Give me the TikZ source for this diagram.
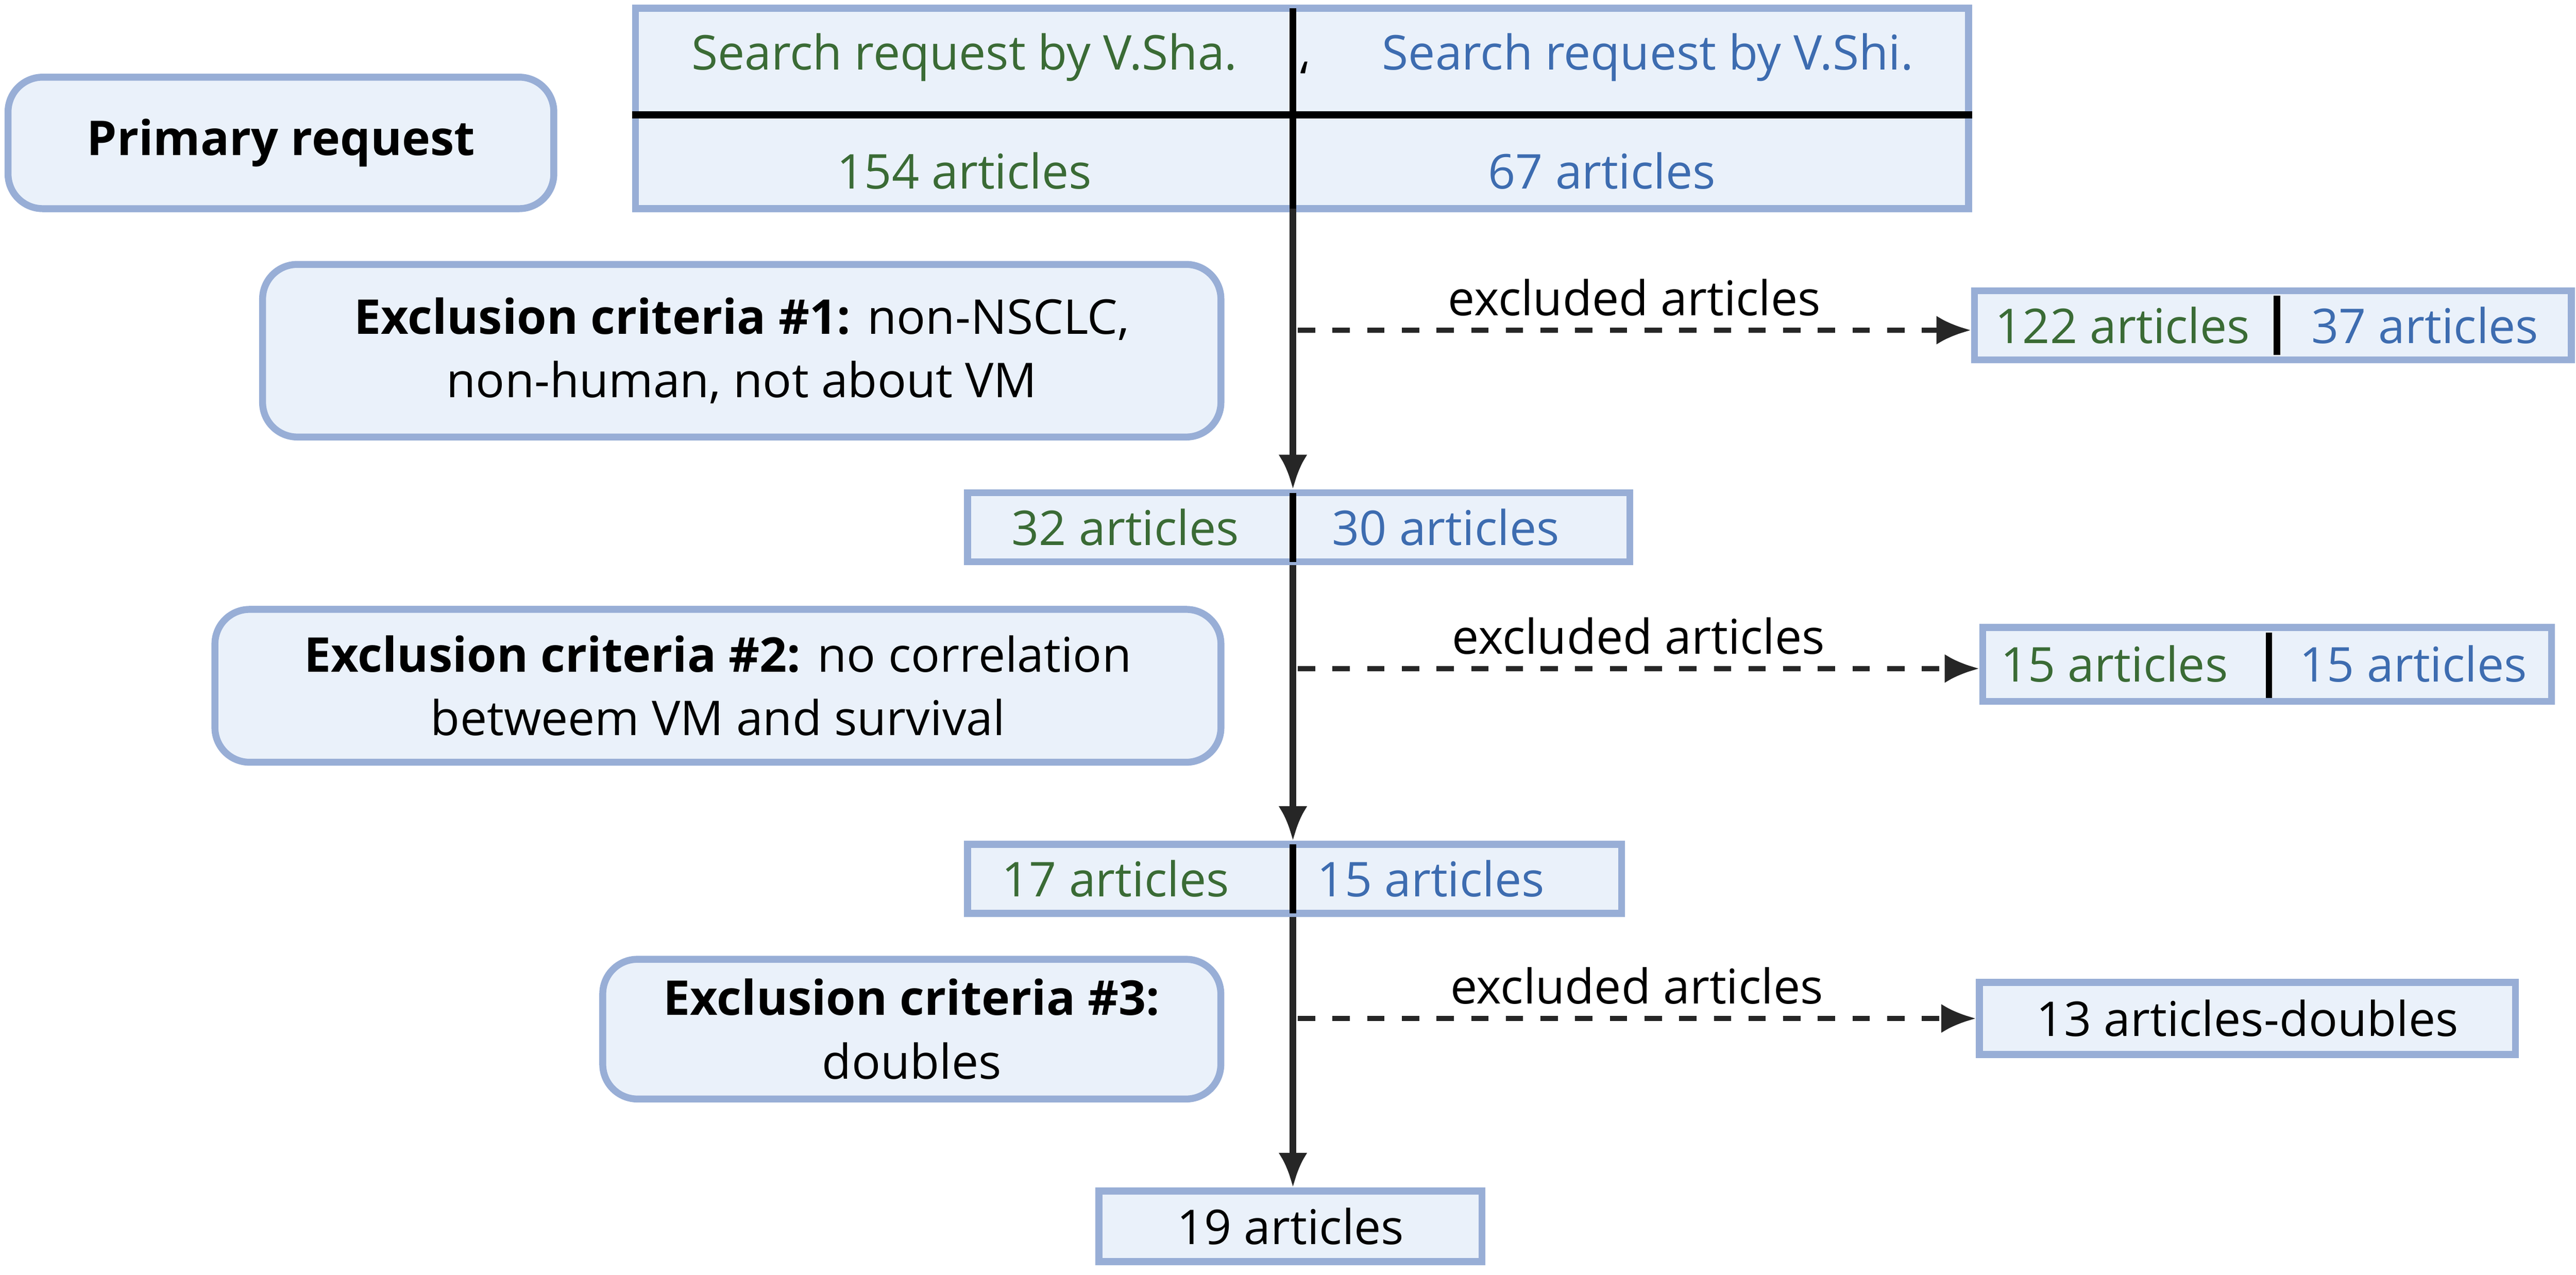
\documentclass[tikz,border=0pt]{standalone}
\usepackage{fontspec}
\setmainfont{Open Sans}
\usetikzlibrary{arrows.meta}
\definecolor{boxfill}{HTML}{EAF1FA}
\definecolor{boxline}{HTML}{98AED6}
\definecolor{grn}{HTML}{3A6B35}
\definecolor{blu}{HTML}{3D6CB0}
\tikzset{
  box/.style={draw=boxline,fill=boxfill,line width=1.2pt,inner sep=0pt},
  rbox/.style={box,rounded corners=6pt,align=center},
  txt/.style={inner sep=0pt,font=\fontsize{8.3}{11}\selectfont},
  main/.style={line width=1.1pt,draw=black!85,-{Latex[length=6pt,width=5pt]}},
  excl/.style={line width=0.9pt,dashed,draw=black!85,-{Latex[length=6pt,width=5pt]}},
}
\begin{document}
\begin{tikzpicture}[x=0.01cm,y=-0.01cm]
\useasboundingbox (0,0) rectangle (1568,776);
% primary request
\node[rbox,minimum width=3.32cm,minimum height=0.8cm,txt] (prim) at (171,87) {\textbf{Primary request}};
% search table
\node[box,minimum width=8.11cm,minimum height=1.22cm] (tab) at (792.5,66) {};
\draw[line width=1.3pt] (tab.west |- 0,70) coordinate (hl) -- (tab.east |- 0,70);
\draw[line width=1.1pt] (787,5) coordinate (vt) -- (787,127) coordinate (vb);
\node[txt,text=grn] (sha) at (587,35) {Search request by V.Sha.};
\node[txt,text=blu] (shi) at (1003,35) {Search request by V.Shi.};
\node[txt] (tick) at (794,48) {`};
\node[txt,text=grn] (n154) at (587,104) {154 articles};
\node[txt,text=blu] (n67) at (975,104) {67 articles};
% step 1
\node[rbox,minimum width=5.83cm,minimum height=1.05cm,txt] (ex1) at (451.5,213.5)
  {\textbf{Exclusion criteria \#1:} non-NSCLC,\\non-human, not about VM};
\node[box,minimum width=4.03cm,minimum height=0.42cm] (b2) at (790.5,321) {};
\draw[line width=1.1pt] (787,300) -- (787,342);
\node[txt,text=grn] at (685,321) {32 articles};
\node[txt,text=blu] at (880,321) {30 articles};
\draw[main] (vb) -- (b2.north -| vb);
\coordinate (d1) at (790,201);
\node[box,minimum width=3.63cm,minimum height=0.42cm] (e1) at (1383.5,198) {};
\draw[line width=1.1pt] (1386,180) -- (1386,216);
\node[txt,text=grn] at (1292,198) {122 articles};
\node[txt,text=blu] at (1476,198) {37 articles};
\draw[excl] (d1) -- (e1.west |- d1) node[midway,above=2pt,txt,text=black] {excluded articles};
% step 2
\node[rbox,minimum width=6.12cm,minimum height=0.93cm,txt] (ex2) at (437,417.5)
  {\textbf{Exclusion criteria \#2:} no correlation\\betweem VM and survival};
\node[box,minimum width=3.98cm,minimum height=0.42cm] (b3) at (788,535) {};
\draw[line width=1.1pt] (787,514) -- (787,556);
\node[txt,text=grn] at (679,535) {17 articles};
\node[txt,text=blu] at (871,535) {15 articles};
\draw[main] (b2.south -| vb) -- (b3.north -| vb);
\coordinate (d2) at (790,407);
\node[box,minimum width=3.46cm,minimum height=0.45cm] (e2) at (1380,404.5) {};
\draw[line width=1.1pt] (1381,385) -- (1381,425);
\node[txt,text=grn] at (1287,404) {15 articles};
\node[txt,text=blu] at (1469,404) {15 articles};
\draw[excl] (d2) -- (e2.west |- d2) node[midway,above=2pt,txt,text=black] {excluded articles};
% step 3
\node[rbox,minimum width=3.76cm,minimum height=0.85cm,txt] (ex3) at (555,626.5)
  {\textbf{Exclusion criteria \#3:}\\doubles};
\node[box,minimum width=2.33cm,minimum height=0.43cm,txt] (fin) at (785.5,746.5) {19 articles};
\draw[main] (b3.south -| vb) -- (fin.north -| vb);
\coordinate (d3) at (790,620);
\node[box,minimum width=3.26cm,minimum height=0.44cm,txt] (e3) at (1368,620) {13 articles-doubles};
\draw[excl] (d3) -- (e3.west |- d3) node[midway,above=2pt,txt,text=black] {excluded articles};
\end{tikzpicture}
\end{document}
